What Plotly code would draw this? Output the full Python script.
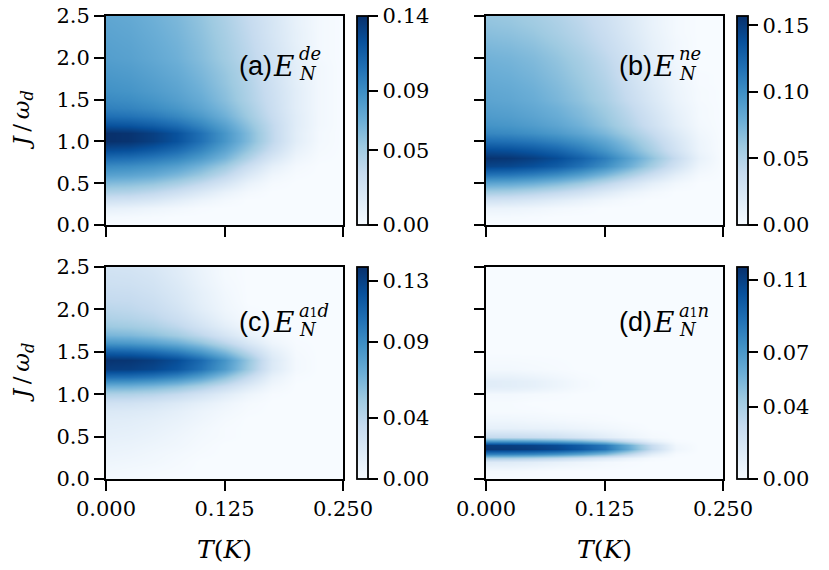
import plotly.graph_objects as go
from plotly.colors import sequential
import numpy as np

# temperature axis (K)
T_K = [0.0, 0.025, 0.05, 0.075, 0.1, 0.125, 0.15, 0.175, 0.2, 0.225, 0.25]

# coupling axis J/w_d for panels a, b, c
J_W = [0.0, 0.1, 0.2, 0.3, 0.4, 0.5, 0.6, 0.7, 0.8, 0.9, 1.0, 1.1, 1.2,
       1.3, 1.4, 1.5, 1.6, 1.7, 1.8, 1.9, 2.0, 2.1, 2.2, 2.3, 2.4, 2.5]

# finer grid for panel d (narrow bands)
J_W_D = [0.0, 0.1, 0.2, 0.25, 0.3, 0.35, 0.4, 0.45, 0.5, 0.6, 0.7, 0.8,
         0.9, 1.0, 1.05, 1.1, 1.15, 1.2, 1.3, 1.5, 2.0, 2.5]

# negativity values x1000, one row per J, one column per T
E_DE = [
    [0, 0, 0, 0, 0, 0, 0, 0, 0, 0, 0],
    [3, 2, 1, 0, 0, 0, 0, 0, 0, 0, 0],
    [12, 10, 7, 4, 1, 0, 0, 0, 0, 0, 0],
    [28, 26, 22, 15, 8, 3, 0, 0, 0, 0, 0],
    [45, 43, 38, 30, 20, 10, 3, 0, 0, 0, 0],
    [62, 60, 56, 48, 37, 24, 10, 2, 0, 0, 0],
    [78, 76, 72, 64, 53, 38, 20, 6, 1, 0, 0],
    [92, 90, 86, 79, 67, 52, 32, 13, 3, 0, 0],
    [108, 106, 101, 94, 82, 66, 45, 23, 7, 1, 0],
    [125, 123, 117, 108, 94, 76, 55, 32, 11, 2, 0],
    [140, 138, 132, 122, 105, 85, 63, 38, 15, 3, 0],
    [140, 138, 132, 122, 105, 85, 63, 38, 15, 3, 0],
    [122, 120, 115, 107, 94, 78, 58, 37, 16, 4, 0],
    [106, 104, 100, 93, 83, 69, 52, 34, 16, 4, 0],
    [97, 95, 91, 85, 76, 64, 49, 32, 15, 4, 0],
    [92, 90, 86, 80, 72, 60, 46, 31, 15, 4, 0],
    [88, 86, 82, 77, 69, 58, 45, 30, 15, 4, 0],
    [86, 84, 80, 75, 67, 56, 44, 29, 14, 4, 0],
    [84, 82, 78, 73, 65, 55, 43, 28, 14, 4, 0],
    [82, 80, 76, 71, 63, 53, 42, 28, 14, 4, 0],
    [80, 78, 74, 69, 61, 51, 40, 27, 13, 3, 0],
    [79, 77, 73, 68, 60, 50, 39, 26, 13, 3, 0],
    [78, 76, 72, 67, 59, 49, 38, 25, 12, 3, 0],
    [77, 75, 71, 66, 58, 48, 37, 24, 12, 3, 0],
    [76, 74, 70, 65, 57, 47, 36, 24, 11, 3, 0],
    [75, 73, 69, 64, 56, 46, 35, 23, 11, 3, 0],
]

E_NE = [
    [0, 0, 0, 0, 0, 0, 0, 0, 0, 0, 0],
    [2, 2, 1, 0, 0, 0, 0, 0, 0, 0, 0],
    [10, 9, 7, 4, 2, 0, 0, 0, 0, 0, 0],
    [30, 28, 24, 18, 12, 6, 2, 0, 0, 0, 0],
    [55, 53, 48, 41, 32, 21, 11, 4, 0, 0, 0],
    [85, 83, 78, 70, 59, 45, 30, 15, 5, 0, 0],
    [115, 113, 108, 100, 88, 72, 54, 34, 15, 3, 0],
    [145, 143, 138, 130, 117, 100, 79, 55, 30, 8, 0],
    [155, 153, 148, 140, 127, 110, 88, 64, 38, 12, 0],
    [140, 138, 133, 125, 112, 96, 76, 54, 30, 9, 0],
    [120, 118, 114, 107, 97, 84, 67, 47, 26, 8, 0],
    [105, 103, 99, 93, 84, 72, 57, 40, 21, 6, 0],
    [97, 95, 91, 85, 76, 64, 50, 33, 16, 4, 0],
    [92, 90, 86, 80, 71, 60, 46, 30, 14, 3, 0],
    [89, 87, 83, 77, 68, 57, 43, 27, 12, 3, 0],
    [86, 84, 80, 73, 64, 53, 39, 24, 10, 2, 0],
    [84, 82, 78, 71, 62, 51, 37, 22, 9, 2, 0],
    [82, 80, 76, 69, 60, 49, 35, 20, 8, 1, 0],
    [80, 78, 74, 67, 58, 47, 33, 19, 7, 1, 0],
    [78, 76, 72, 65, 56, 45, 32, 17, 6, 0, 0],
    [76, 74, 70, 63, 54, 43, 30, 16, 5, 0, 0],
    [73, 71, 67, 60, 51, 40, 28, 14, 4, 0, 0],
    [70, 68, 64, 57, 48, 38, 26, 13, 4, 0, 0],
    [67, 65, 61, 54, 46, 36, 24, 12, 3, 0, 0],
    [64, 62, 58, 52, 44, 34, 23, 11, 3, 0, 0],
    [62, 60, 56, 50, 42, 33, 22, 11, 3, 0, 0],
]

E_A1D = [
    [2, 2, 1, 0, 0, 0, 0, 0, 0, 0, 0],
    [4, 3, 2, 1, 0, 0, 0, 0, 0, 0, 0],
    [6, 5, 4, 2, 0, 0, 0, 0, 0, 0, 0],
    [8, 7, 5, 3, 1, 0, 0, 0, 0, 0, 0],
    [10, 9, 7, 5, 2, 0, 0, 0, 0, 0, 0],
    [12, 11, 9, 6, 3, 1, 0, 0, 0, 0, 0],
    [14, 13, 11, 8, 4, 1, 0, 0, 0, 0, 0],
    [16, 15, 13, 10, 6, 2, 0, 0, 0, 0, 0],
    [20, 19, 17, 13, 8, 4, 1, 0, 0, 0, 0],
    [28, 27, 24, 19, 13, 7, 2, 0, 0, 0, 0],
    [45, 44, 41, 35, 26, 16, 7, 1, 0, 0, 0],
    [70, 69, 65, 58, 47, 33, 18, 5, 0, 0, 0],
    [105, 104, 100, 92, 78, 58, 35, 11, 1, 0, 0],
    [132, 131, 127, 119, 103, 81, 52, 19, 3, 0, 0],
    [137, 136, 132, 124, 108, 85, 55, 20, 3, 0, 0],
    [115, 113, 108, 99, 84, 64, 40, 15, 2, 0, 0],
    [85, 83, 78, 70, 57, 40, 22, 7, 1, 0, 0],
    [65, 63, 58, 50, 38, 24, 11, 3, 0, 0, 0],
    [52, 50, 46, 38, 26, 14, 5, 1, 0, 0, 0],
    [45, 43, 39, 31, 20, 9, 2, 0, 0, 0, 0],
    [40, 38, 34, 26, 15, 6, 1, 0, 0, 0, 0],
    [36, 35, 31, 23, 13, 5, 0, 0, 0, 0, 0],
    [33, 32, 28, 21, 12, 4, 0, 0, 0, 0, 0],
    [30, 29, 26, 19, 10, 3, 0, 0, 0, 0, 0],
    [28, 27, 24, 17, 9, 2, 0, 0, 0, 0, 0],
    [26, 25, 22, 16, 8, 2, 0, 0, 0, 0, 0],
]

E_A1N = [
    [0, 0, 0, 0, 0, 0, 0, 0, 0, 0, 0],
    [2, 2, 1, 0, 0, 0, 0, 0, 0, 0, 0],
    [15, 14, 12, 9, 6, 3, 1, 0, 0, 0, 0],
    [40, 39, 36, 31, 24, 16, 8, 2, 0, 0, 0],
    [80, 79, 77, 72, 64, 52, 33, 12, 1, 0, 0],
    [114, 113, 111, 107, 99, 87, 62, 30, 5, 0, 0],
    [112, 111, 109, 105, 97, 85, 60, 28, 4, 0, 0],
    [70, 69, 67, 63, 56, 45, 28, 10, 1, 0, 0],
    [30, 29, 27, 24, 19, 13, 7, 2, 0, 0, 0],
    [10, 10, 9, 8, 6, 4, 2, 0, 0, 0, 0],
    [5, 5, 4, 3, 2, 1, 0, 0, 0, 0, 0],
    [1, 1, 1, 0, 0, 0, 0, 0, 0, 0, 0],
    [1, 1, 0, 0, 0, 0, 0, 0, 0, 0, 0],
    [3, 3, 2, 1, 0, 0, 0, 0, 0, 0, 0],
    [9, 9, 7, 4, 1, 0, 0, 0, 0, 0, 0],
    [13, 12, 10, 6, 2, 0, 0, 0, 0, 0, 0],
    [13, 12, 10, 6, 2, 0, 0, 0, 0, 0, 0],
    [9, 9, 7, 4, 1, 0, 0, 0, 0, 0, 0],
    [3, 3, 2, 1, 0, 0, 0, 0, 0, 0, 0],
    [0, 0, 0, 0, 0, 0, 0, 0, 0, 0, 0],
    [0, 0, 0, 0, 0, 0, 0, 0, 0, 0, 0],
    [0, 0, 0, 0, 0, 0, 0, 0, 0, 0, 0],
]

CB_MAX = [0.14, 0.157, 0.139, 0.117]
CB_TICKS = [
    ["0.00", "0.05", "0.09", "0.14"],
    ["0.00", "0.05", "0.10", "0.15"],
    ["0.00", "0.04", "0.09", "0.13"],
    ["0.00", "0.04", "0.07", "0.11"],
]
LABELS = ["(a)", "(b)", "(c)", "(d)"]
SMALL1 = "<span style='font-size:12px'>1</span>"
SUPS = ["<i>de</i>", "<i>ne</i>",
        "<i>a</i>" + SMALL1 + "<i>d</i>", "<i>a</i>" + SMALL1 + "<i>n</i>"]

# page body has an 8px margin, so the figure starts 8px in
OFF = 8
W, H = 829 - OFF, 570 - OFF
SERIF = "DejaVu Serif"
FS = 21

panels = [(E_DE, J_W), (E_NE, J_W), (E_A1D, J_W), (E_A1N, J_W_D)]
col_px = [(106, 343), (486, 723)]
row_px = [(16, 225), (267, 479)]
cb_left = [357, 737]


def px_x(p):
    return (p - OFF) / W


def px_y(p):
    return 1 - (p - OFF) / H


def note(x, y, text, size, family=SERIF, xanchor="left", angle=0):
    fig.add_annotation(
        xref="paper", yref="paper", x=px_x(x), y=px_y(y),
        xanchor=xanchor, yanchor="middle", showarrow=False, textangle=angle,
        text=text, font=dict(family=family, size=size, color="black"),
    )


fig = go.Figure()
axis_style = dict(
    showline=True, linecolor="black", linewidth=1.8, mirror=True,
    ticks="outside", ticklen=10, tickwidth=1.8, tickcolor="black",
    showgrid=False, zeroline=False, automargin=False,
    ticklabeloverflow="allow",
    tickfont=dict(family=SERIF, size=FS, color="black"),
)

for i, (vals, jgrid) in enumerate(panels):
    r, c = divmod(i, 2)
    n = "" if i == 0 else str(i + 1)
    x0, x1 = col_px[c]
    y0, y1 = row_px[r]
    ticks = CB_TICKS[i]
    fig.add_trace(go.Heatmap(
        x=T_K, y=jgrid, z=np.array(vals) / 1000.0,
        zmin=0, zmax=CB_MAX[i], zsmooth="best",
        colorscale=sequential.Blues,
        xaxis="x" + n, yaxis="y" + n,
        colorbar=dict(
            x=px_x(cb_left[c]), xanchor="left",
            y=px_y((y0 + y1) / 2), yanchor="middle",
            len=(y1 - y0) / H, lenmode="fraction",
            thickness=11, thicknessmode="pixels",
            xpad=0, ypad=0,
            outlinewidth=1.8, outlinecolor="black",
            ticks="outside", ticklen=10, tickwidth=1.8, tickcolor="black",
            ticklabeloverflow="allow",
            tickvals=[float(t) for t in ticks], ticktext=ticks,
            tickfont=dict(family=SERIF, size=FS, color="black"),
        ),
    ))
    fig.layout["xaxis" + n] = dict(
        axis_style, domain=[px_x(x0), px_x(x1)], anchor="y" + n,
        range=[0, 0.25], tickvals=[0, 0.125, 0.25],
        ticktext=["0.000", "0.125", "0.250"], showticklabels=(r == 1),
    )
    fig.layout["yaxis" + n] = dict(
        axis_style, domain=[px_y(y1), px_y(y0)], anchor="x" + n,
        range=[0, 2.5], tickvals=[0, 0.5, 1.0, 1.5, 2.0, 2.5],
        ticktext=["0.0", "0.5", "1.0", "1.5", "2.0", "2.5"],
        showticklabels=(c == 0),
    )

    # panel label (x)E with stacked super/subscript
    ly = 66 if r == 0 else 322
    note(x0 + 131, ly, LABELS[i], 27, family="Liberation Sans")
    note(x0 + 165, ly, "<i>E</i>", 28)
    note(x0 + 191, ly - 12, SUPS[i], 18)
    note(x0 + 191, ly + 7, "<i>N</i>", 18)

# axis titles
for y0, y1 in row_px:
    note(23, (y0 + y1) / 2, "<i>J</i>\u2009/\u2009<i>ω</i><sub><i>d</i></sub>",
         23, xanchor="center", angle=-90)
for x0, x1 in col_px:
    note((x0 + x1) / 2, 549, "<i>T</i>(<i>K</i>)", 25, xanchor="center")

fig.update_layout(
    width=W, height=H,
    margin=dict(l=0, r=0, t=0, b=0, autoexpand=False),
    paper_bgcolor="white", plot_bgcolor="white",
    showlegend=False,
)

fig.write_html("out.html")
